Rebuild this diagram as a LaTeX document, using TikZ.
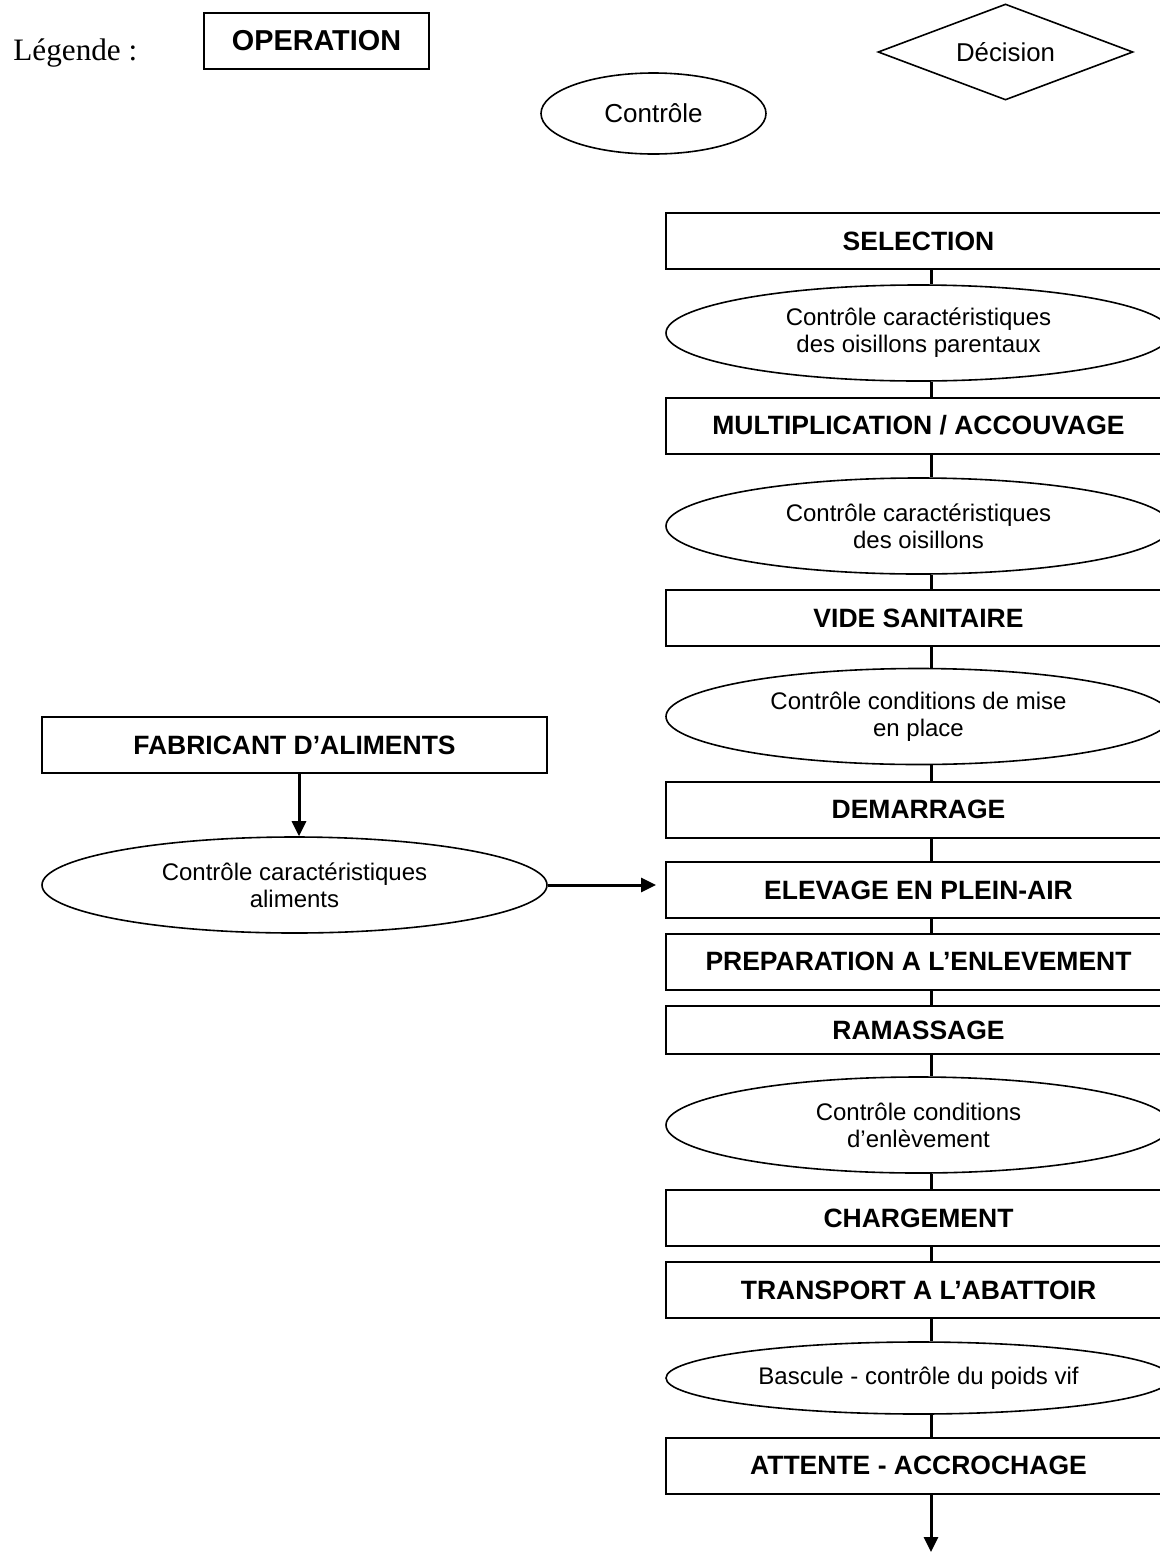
\documentclass[tikz,border=0pt]{standalone}
\usepackage{fontspec}
\setmainfont{Liberation Sans}
\newfontfamily\legfont{Liberation Serif}
\usetikzlibrary{shapes.geometric, arrows.meta}
\tikzset{op/.style = {rectangle, draw, line width=1pt, minimum width=252.5pt, minimum height=28pt, inner sep=0pt,
                        font=\fontsize{13.25}{15}\selectfont\bfseries},
         ct/.style = {ellipse, draw, line width=0.8pt, minimum width=252.5pt, minimum height=48pt, inner sep=0pt,
                        align=center, font=\fontsize{12}{13.5}\selectfont},
         dc/.style = {diamond, draw, line width=0.8pt, minimum width=127.5pt, minimum height=48pt, inner sep=0pt,
                        aspect=2.65, font=\fontsize{12.9}{15}\selectfont},
         ln/.style = {line width=1.5pt}}

\begin{document}
\begin{tikzpicture}[x=0.5pt, y=-0.5pt, >={Triangle[length=7.5pt, width=7pt]}]
    \useasboundingbox (0,0) rectangle (1160,1553);
    \clip (0,0) rectangle (1160,1553);
    % legende
    \node[anchor=base west, inner sep=0pt, font=\legfont\fontsize{15.6}{18}\selectfont] (leg) at (13,60) {Légende :};
    \node[op, minimum width=112.5pt, font=\fontsize{14.4}{16}\selectfont\bfseries] (lop) at (316.5,41) {OPERATION};
    \node[ct, minimum width=112.5pt, minimum height=40.5pt, font=\fontsize{13}{15}\selectfont] (lct) at (653.5,113.5) {Contrôle};
    \node[dc] (ldc) at (1005.5,52) {Décision};
    % colonne principale
    \node[op] (sel) at (918.5,241) {SELECTION};
    \node[ct] (c1) at (918.5,333) {Contrôle caractéristiques\\des oisillons parentaux};
    \node[op] (mul) at (918.5,425.5) {MULTIPLICATION / ACCOUVAGE};
    \node[ct] (c2) at (918.5,526) {Contrôle caractéristiques\\des oisillons};
    \node[op] (vid) at (918.5,618) {VIDE SANITAIRE};
    \node[ct] (c3) at (918.5,716.5) {Contrôle conditions de mise\\en place};
    \node[op] (dem) at (918.5,809.5) {DEMARRAGE};
    \node[op] (ele) at (918.5,890) {ELEVAGE EN PLEIN-AIR};
    \node[op] (pre) at (918.5,961.5) {PREPARATION A L’ENLEVEMENT};
    \node[op, minimum height=24pt] (ram) at (918.5,1030) {RAMASSAGE};
    \node[ct] (c4) at (918.5,1125) {Contrôle conditions\\d’enlèvement};
    \node[op] (cha) at (918.5,1218) {CHARGEMENT};
    \node[op] (tra) at (918.5,1290) {TRANSPORT A L’ABATTOIR};
    \node[ct, minimum height=36pt] (c5) at (918.5,1378) {Bascule - contrôle du poids vif};
    \node[op] (att) at (918.5,1465.5) {ATTENTE - ACCROCHAGE};
    \coordinate (ax) at (931,0);
    \coordinate (fin) at (931,1552);
    % aliments
    \node[op] (fab) at (294.5,745) {FABRICANT D’ALIMENTS};
    \node[ct] (ca) at (294.5,885) {Contrôle caractéristiques\\aliments};
    \coordinate (bx) at (299,0);
    \foreach \a/\b in {sel/c1, c1/mul, mul/c2, c2/vid, vid/c3, c3/dem, dem/ele, ele/pre,
                       pre/ram, ram/c4, c4/cha, cha/tra, tra/c5, c5/att}
      \draw[ln] (\a.south -| ax) -- (\b.north -| ax);
    \draw[ln, ->] (att.south -| ax) -- (fin);
    \draw[ln, ->] (fab.south -| bx) -- (ca.north -| bx);
    \draw[ln, ->, shorten >=4.5pt] (ca.east) -- (ca.east -| ele.west);
\end{tikzpicture}
\end{document}
